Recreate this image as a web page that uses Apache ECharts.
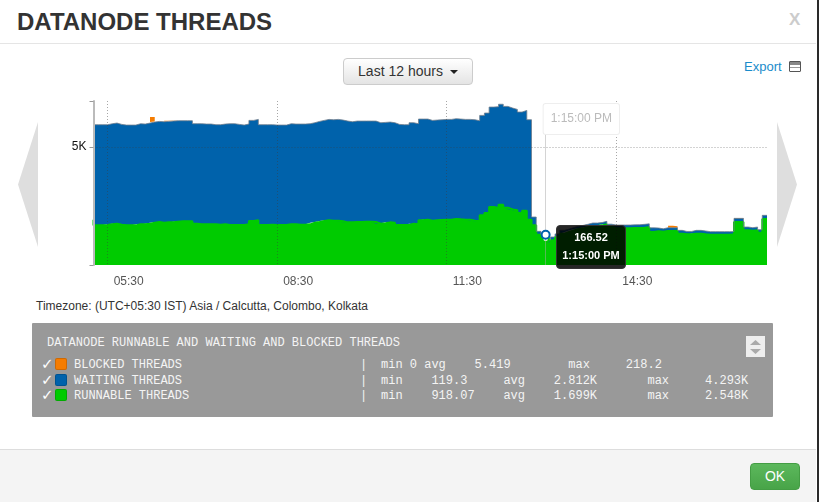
<!DOCTYPE html>
<html>
<head>
<meta charset="utf-8">
<title>Datanode threads</title>
<script src="https://cdn.jsdelivr.net/npm/echarts@6/dist/echarts.min.js"></script>
<style>
html, body { margin: 0; padding: 0; background: #fff; }
body { width: 819px; height: 502px; position: relative; overflow: hidden; font-family: "Liberation Sans", Arial, sans-serif; color: #333; }
.abs { position: absolute; }
#chart { position: absolute; left: 0; top: 0; width: 819px; height: 502px; }
.title { left: 17px; top: 9px; font-size: 24px; font-weight: bold; line-height: 26px; white-space: nowrap; }
.close { left: 789px; top: 10px; font-size: 17px; font-weight: bold; color: #ccc; line-height: 20px; }
.head-line { left: 0; top: 43px; width: 816px; height: 1px; background: #e5e5e5; }
.range { left: 343px; top: 58px; width: 128px; height: 25px; border: 1px solid #ccc; border-radius: 4px; background: linear-gradient(#fff, #e4e4e4); font-size: 14px; line-height: 25px; text-align: center; }
.caret { display: inline-block; width: 0; height: 0; margin-left: 7px; vertical-align: middle; border-left: 4px solid transparent; border-right: 4px solid transparent; border-top: 4px solid #222; }
.export { left: 744px; top: 59px; font-size: 13px; line-height: 16px; color: #1a8ccb; }
.disk { left: 789px; top: 61px; width: 10px; height: 9px; border: 1px solid #555; border-radius: 1px; background: linear-gradient(#888 0 30%, #fff 30% 55%, #999 55% 65%, #fff 65%); }
.arrow { top: 122px; width: 20px; height: 125px; background: #dedede; }
.arrow.left { left: 18px; clip-path: polygon(0 50%, 100% 0, 100% 100%); }
.arrow.right { left: 777px; clip-path: polygon(100% 50%, 0 0, 0 100%); }
.zone { left: 36px; top: 299px; font-size: 12px; line-height: 14px; white-space: nowrap; }
.panel { left: 32px; top: 323px; width: 741px; height: 94px; background: #999; border-radius: 1px; }
.panel div, .panel span { position: absolute; font-family: "Liberation Mono", "Courier New", monospace; font-size: 12px; line-height: 14px; color: #f4f4f4; white-space: pre; }
.panel .check { font-family: "DejaVu Sans"; font-size: 15px; font-weight: bold; color: #fff; }
.swatch { width: 10px; height: 10px; border-radius: 2px; border: 1px solid rgba(0,0,0,.15); }
.spin { left: 714px; top: 13px; width: 19px; height: 21px; background: #eee; }
.foot { left: 0; top: 449px; width: 816px; height: 53px; background: #f4f4f4; border-top: 1px solid #ddd; box-sizing: border-box; }
.ok { left: 750px; top: 463px; width: 50px; height: 27px; background: linear-gradient(#5cb85c, #48a448); border: 1px solid #449d44; border-radius: 4px; box-sizing: border-box; color: #fff; font-size: 14px; line-height: 25px; text-align: center; }
.edge { left: 817px; top: 0; width: 2px; height: 502px; background: #2a2a2a; }
</style>
</head>
<body>
<div class="abs title">DATANODE THREADS</div>
<div class="abs close">X</div>
<div class="abs head-line"></div>
<div class="abs range">Last 12 hours<span class="caret"></span></div>
<div class="abs export">Export</div>
<div class="abs disk"></div>
<div class="abs arrow left"></div>
<div class="abs arrow right"></div>
<div class="abs zone">Timezone: (UTC+05:30 IST) Asia / Calcutta, Colombo, Kolkata</div>
<div class="abs panel" id="panel"></div>
<div class="abs foot"></div>
<div class="abs ok">OK</div>
<div class="abs edge"></div>
<div id="chart"></div>
<script>
// one sample every 5 minutes from startMinutes (05:15)
var startMinutes = 5 * 60 + 15;
var stepMinutes = 5;
var tickLabels = ['05:30', '08:30', '11:30', '14:30'];

var runnable = [
    1920, 1680, 1680, 1694, 1723, 1751, 1709, 1680, 1680, 1680,
    1723, 1723, 1751, 1793, 1821, 1793, 1807, 1807, 1836, 1850,
    1850, 1850, 1751, 1723, 1723, 1723, 1723, 1709, 1723, 1694,
    1694, 1694, 1694, 1723, 1864, 1892, 1694, 1694, 1709, 1694,
    1694, 1694, 1723, 1723, 1709, 1709, 1723, 1793, 1821, 1864,
    1892, 1878, 1878, 1850, 1807, 1807, 1821, 1821, 1836, 1836,
    1821, 1751, 1765, 1807, 1793, 1694, 1694, 1694, 1751, 1723,
    1892, 1920, 1878, 1892, 1906, 1920, 1920, 1949, 1934, 1920,
    1920, 1878, 1850, 2104, 2203, 2457, 2415, 2548, 2429, 2358,
    2316, 2203, 2302, 1920, 1680, 1285, 1115, 918.07, 1045, 1186,
    1327, 1398, 1468, 1525, 1553, 1596, 1638, 1652, 1680, 1723,
    1610, 1567, 1553, 1553, 1553, 1567, 1567, 1581, 1596, 1398,
    1426, 1412, 1440, 1440, 1454, 1327, 1299, 1299, 1327, 1327,
    1299, 1285, 1285, 1285, 1285, 1285, 1299, 1821, 1821, 1468,
    1454, 1468, 1370, 1949
];
var waiting = [
    4293, 4264, 4264, 4250, 4264, 4264, 4250, 4250, 4250, 4250,
    4264, 4250, 4264, 4264, 4264, 4278, 4278, 4292, 4278, 4264,
    4264, 4264, 4236, 4264, 4250, 4250, 4222, 4236, 4250, 4292,
    4292, 4264, 4236, 4250, 4264, 4278, 4250, 4250, 4236, 4236,
    4236, 4236, 4264, 4250, 4264, 4264, 4264, 4236, 4264, 4264,
    4278, 4278, 4292, 4292, 4292, 4264, 4278, 4278, 4264, 4264,
    4278, 4278, 4278, 4250, 4236, 4264, 4250, 4250, 4278, 4264,
    4292, 4264, 4250, 4250, 4250, 4250, 4250, 4250, 4250, 4250,
    4250, 4278, 4264, 4236, 4236, 4236, 4293, 4264, 4292, 4292,
    4278, 4278, 4250, 4236, 353, 141, 166.52, 141, 141, 132,
    145, 125, 119.3, 122, 127, 130, 141, 127, 120, 127,
    120, 125, 142, 140, 141, 135, 139, 142, 148, 176,
    141, 122, 141, 141, 127, 141, 123, 123, 141, 141,
    141, 127, 127, 127, 127, 127, 120, 155, 155, 141,
    127, 141, 127, 155
];
var blocked = [
    0, 0, 0, 0, 0, 0, 0, 0, 0, 0,
    0, 0, 0, 218.2, 0, 0, 30, 25, 0, 0,
    0, 0, 0, 0, 0, 0, 0, 0, 0, 0,
    0, 0, 0, 0, 0, 0, 0, 0, 0, 0,
    0, 0, 0, 0, 0, 0, 0, 0, 0, 0,
    0, 0, 0, 0, 0, 0, 0, 0, 0, 0,
    0, 0, 0, 0, 0, 0, 0, 0, 0, 0,
    0, 0, 0, 0, 0, 0, 0, 0, 0, 0,
    0, 0, 0, 0, 0, 0, 0, 0, 0, 0,
    0, 0, 0, 0, 0, 0, 0, 0, 0, 0,
    0, 0, 0, 0, 0, 0, 0, 0, 0, 0,
    0, 0, 0, 0, 0, 0, 0, 0, 0, 0,
    0, 0, 0, 85, 60, 0, 0, 0, 0, 0,
    0, 0, 0, 0, 0, 0, 0, 20, 20, 0,
    0, 0, 0, 0
];
var legendTitle = 'DATANODE RUNNABLE AND WAITING AND BLOCKED THREADS';
var legendNames = ['BLOCKED THREADS', 'WAITING THREADS', 'RUNNABLE THREADS'];
var legendColors = ['#f57c00', '#0062ab', '#00cb00'];
var legendStats = [
    'min 0 avg    5.419        max     218.2',
    'min    119.3     avg    2.812K       max     4.293K',
    'min    918.07    avg    1.699K       max     2.548K'
];
var hoverIndex = 96;
var hoverLabel = '1:15:00 PM';

function pad(n) {
    return (n < 10 ? '0' : '') + n;
}
var times = runnable.map(function (v, i) {
    var m = startMinutes + i * stepMinutes;
    return pad(Math.floor(m / 60)) + ':' + pad(m % 60);
});
function isTick(index, value) {
    return tickLabels.indexOf(value) >= 0;
}
// flat stretches of blocked are left out so the orange does not fringe the blue edge
var blockedDrawn = blocked.map(function (v, i) {
    return v || blocked[i - 1] ? v : null;
});

var panel = document.getElementById('panel');
function addText(text, left, top, cls) {
    var el = document.createElement('div');
    el.textContent = text;
    el.style.left = left + 'px';
    el.style.top = top + 'px';
    if (cls) el.className = cls;
    panel.appendChild(el);
}
addText(legendTitle, 15, 13);
legendNames.forEach(function (name, i) {
    var top = [35, 51, 66][i];
    addText('\u2713', 9, top - 1, 'check');
    var sw = document.createElement('span');
    sw.className = 'swatch';
    sw.style.left = '23px';
    sw.style.top = top + 'px';
    sw.style.background = legendColors[i];
    panel.appendChild(sw);
    addText(name, 42, top);
    addText('|', 328, top);
    addText(legendStats[i], 349, top);
});
var spin = document.createElement('span');
spin.className = 'spin';
panel.appendChild(spin);
['polygon(50% 0,100% 100%,0 100%)', 'polygon(0 0,100% 0,50% 100%)'].forEach(function (shape, i) {
    var arrow = document.createElement('span');
    arrow.style.cssText = 'left:4px;top:' + (i ? 13 : 4) + 'px;width:11px;height:5px;background:#aaa;clip-path:' + shape;
    spin.appendChild(arrow);
});

var chart = echarts.init(document.getElementById('chart'), null, {renderer: 'canvas'});
chart.setOption({
    animation: false,
    backgroundColor: 'transparent',
    grid: {left: 93.5, right: 52, top: 101, bottom: 237},
    tooltip: {
        trigger: 'axis',
        axisPointer: {type: 'none'},
        alwaysShowContent: true,
        transitionDuration: 0,
        position: [556, 225],
        padding: [2, 4, 6, 4],
        backgroundColor: 'rgba(0,0,0,0.85)',
        borderColor: '#333',
        borderWidth: 1,
        extraCssText: 'width:60px;height:34px;box-shadow:none;border-radius:4px;text-align:center;box-sizing:content-box;',
        textStyle: {color: '#fff', fontSize: 11, fontWeight: 'bold', fontFamily: 'Liberation Sans', lineHeight: 18},
        formatter: function () {
            return waiting[hoverIndex] + '<br>' + hoverLabel;
        }
    },
    xAxis: {
        type: 'category',
        data: times,
        boundaryGap: false,
        z: 5,
        axisLine: {show: false},
        axisTick: {show: false},
        splitLine: {
            show: true,
            interval: isTick,
            lineStyle: {color: 'rgba(60,60,60,0.45)', type: [1, 2], width: 1}
        },
        axisLabel: {
            interval: isTick,
            color: '#555',
            fontSize: 12,
            fontFamily: 'Liberation Sans',
            margin: 11,
            align: 'left',
            padding: [0, 0, 0, 6]
        }
    },
    yAxis: {
        type: 'value',
        min: 0,
        max: 6950,
        z: 5,
        axisLine: {show: true, lineStyle: {color: '#bbb', width: 2}},
        axisTick: {show: true, length: 4, customValues: [0, 5000, 6950], lineStyle: {color: '#999'}},
        splitLine: {
            show: true,
            showMinLine: false,
            showMaxLine: false,
            lineStyle: {color: 'rgba(60,60,60,0.45)', type: [1, 2], width: 1}
        },
        axisLabel: {
            customValues: [5000],
            color: '#111',
            fontSize: 12,
            fontFamily: 'Liberation Sans',
            margin: 7,
            formatter: function (v) { return (v / 1000) + 'K'; }
        }
    },
    series: [
        {
            name: legendNames[2],
            type: 'line',
            stack: 'threads',
            step: 'start',
            showSymbol: false,
            emphasis: {disabled: true},
            data: runnable,
            // thicker line closes the hairline gap under the blue area
            lineStyle: {width: 2, color: legendColors[2]},
            itemStyle: {color: legendColors[2]},
            areaStyle: {color: legendColors[2], opacity: 1}
        },
        {
            name: legendNames[1],
            type: 'line',
            stack: 'threads',
            step: 'start',
            showSymbol: false,
            emphasis: {disabled: true},
            data: waiting,
            lineStyle: {width: 1, color: 'rgba(110,125,140,0.8)'},
            itemStyle: {color: legendColors[1]},
            areaStyle: {color: legendColors[1], opacity: 1},
            markPoint: {
                silent: true,
                symbol: 'circle',
                symbolSize: 8,
                itemStyle: {color: '#fff', borderColor: legendColors[1], borderWidth: 2},
                label: {show: false},
                data: [{coord: [times[hoverIndex], runnable[hoverIndex] + waiting[hoverIndex]]}]
            },
            markLine: {
                silent: true,
                symbol: 'none',
                lineStyle: {color: 'rgba(170,170,170,0.5)', type: 'solid', width: 1},
                label: {
                    show: true,
                    position: 'end',
                    formatter: hoverLabel,
                    color: '#bbb',
                    fontSize: 12,
                    fontFamily: 'Liberation Sans',
                    align: 'left',
                    verticalAlign: 'top',
                    offset: [-2, 6],
                    padding: [9, 7, 9, 7],
                    backgroundColor: '#fff',
                    borderColor: '#eee',
                    borderWidth: 1,
                    borderRadius: 2
                },
                data: [[{coord: [times[hoverIndex], 0]}, {coord: [times[hoverIndex], 6860]}]]
            }
        },
        {
            name: legendNames[0],
            type: 'line',
            stack: 'threads',
            step: 'start',
            showSymbol: false,
            emphasis: {disabled: true},
            data: blockedDrawn,
            lineStyle: {width: 0},
            itemStyle: {color: legendColors[0]},
            areaStyle: {color: legendColors[0], opacity: 1}
        }
    ]
});
chart.dispatchAction({type: 'showTip', seriesIndex: 1, dataIndex: hoverIndex});
</script>
</body>
</html>
